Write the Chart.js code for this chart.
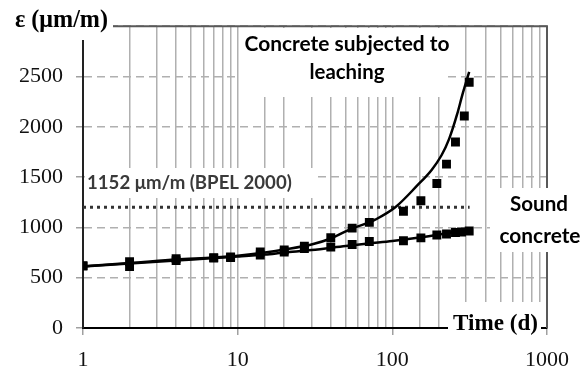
<!DOCTYPE html>
<html><head><meta charset="utf-8">
<script src="https://cdn.jsdelivr.net/npm/chart.js@4.4.1/dist/chart.umd.min.js"></script>
<style>html,body{margin:0;padding:0;background:#fff;}#wrap{width:581px;height:378px;}</style>
</head><body><div id="wrap"><canvas id="c" width="581" height="378"></canvas></div>
<script>
// ---- data ----
const leachedTimes  = [1, 2, 4, 7, 9, 14, 20, 27, 40, 55, 71, 118, 153, 194, 224, 256, 292, 314];
const leachedPoints = [620, 660, 690, 700, 705, 755, 775, 812, 898, 993, 1050, 1160, 1265, 1437, 1629, 1849, 2108, 2443];
const soundTimes    = [1, 2, 4, 7, 9, 14, 20, 27, 40, 55, 71, 118, 153, 194, 224, 256, 280, 314];
const soundPoints   = [615, 610, 670, 695, 700, 725, 755, 790, 805, 830, 860, 867, 896, 925, 935, 950, 955, 965];
const leachedCurveT = [1, 2, 4, 7, 10, 15, 20, 30, 40, 55, 71, 78, 105, 144, 180, 208, 233, 263, 285, 314];
const leachedCurve  = [615, 645, 680, 700, 718, 750, 780, 830, 890, 990, 1050, 1079, 1203, 1412, 1574, 1717, 1880, 2130, 2330, 2545];
const soundCurveT   = [1, 2, 4, 7, 10, 15, 20, 30, 50, 70, 100, 150, 200, 250, 316];
const soundCurve    = [610, 640, 670, 695, 710, 730, 750, 775, 815, 840, 865, 900, 930, 955, 985];
const limitT        = [1, 316];
const limitValue    = [1200, 1200];
const xTickLabels   = [1, 10, 100, 1000];
const yMin = 0, yMax = 3000, yStep = 500;

const SERIF = '"Liberation Serif", "Times New Roman", serif';
const SANS = 'Lato, "Open Sans", sans-serif';
Chart.defaults.font.family = SERIF;
Chart.defaults.font.size = 22;
Chart.defaults.color = '#000';

const pts = (ts, vs) => ts.map((t, i) => ({x: t, y: vs[i]}));

function fitText(ctx, text, x, y, align, weight, family, targetW, color) {
  ctx.font = weight + ' 100px ' + family;
  const w = ctx.measureText(text).width;
  const size = 100 * targetW / w;
  ctx.font = weight + ' ' + size.toFixed(2) + 'px ' + family;
  ctx.fillStyle = color;
  ctx.textAlign = align;
  ctx.textBaseline = 'middle';
  ctx.fillText(text, x, y);
}

const deco = {
  id: 'deco',
  beforeDatasetsDraw(chart) {
    const {ctx, chartArea: a} = chart;
    ctx.save();
    ctx.strokeStyle = '#595959';
    ctx.lineWidth = 2;
    ctx.beginPath();
    ctx.moveTo(a.left, a.top); ctx.lineTo(a.right, a.top); ctx.lineTo(a.right, a.bottom);
    ctx.stroke();
    ctx.fillStyle = '#fff';
    ctx.fillRect(0, 0, 113, 40);
    ctx.fillRect(240, 28, 208, 69);
    ctx.fillRect(85, 168, 228, 30);
    ctx.fillRect(490, 188, 91, 64);
    ctx.fillRect(448, 302, 93, 38);
    fitText(ctx, 'ε (μm/m)', 15, 21, 'left', 'bold', SERIF, 93, '#000');
    fitText(ctx, 'Concrete subjected to', 347, 44, 'center', 'bold', SANS, 205, '#000');
    fitText(ctx, 'leaching', 347, 72, 'center', 'bold', SANS, 75, '#000');
    fitText(ctx, '1152 μm/m (BPEL 2000)', 87, 183, 'left', 'bold', SANS, 205, '#3a3a3a');
    fitText(ctx, 'Sound', 539, 204, 'center', 'bold', SANS, 58, '#000');
    fitText(ctx, 'concrete', 540, 236, 'center', 'bold', SANS, 81, '#000');
    fitText(ctx, 'Time (d)', 453, 324, 'left', 'bold', SERIF, 85, '#000');
    ctx.restore();
  }
};

new Chart(document.getElementById('c'), {
  type: 'scatter',
  data: {
    datasets: [
      {data: pts(leachedTimes, leachedPoints), pointStyle: 'rect', pointRadius: 6.3, backgroundColor: '#000', borderWidth: 0, showLine: false},
      {data: pts(soundTimes, soundPoints), pointStyle: 'rect', pointRadius: 6.3, backgroundColor: '#000', borderWidth: 0, showLine: false},
      {data: pts(leachedCurveT, leachedCurve), showLine: true, borderColor: '#000', borderWidth: 2.5, pointRadius: 0, cubicInterpolationMode: 'monotone'},
      {data: pts(soundCurveT, soundCurve), showLine: true, borderColor: '#000', borderWidth: 2.5, pointRadius: 0, cubicInterpolationMode: 'monotone'},
      {data: pts(limitT, limitValue), showLine: true, borderColor: '#333', borderWidth: 3, borderDash: [3, 4], borderCapStyle: 'butt', pointRadius: 0}
    ]
  },
  options: {
    responsive: false, animation: false, devicePixelRatio: 1,
    layout: {padding: {top: 15, right: 28, left: 0, bottom: 0}},
    plugins: {legend: {display: false}, tooltip: {enabled: false}},
    scales: {
      x: {
        type: 'logarithmic', min: 1, max: 1000,
        afterFit: s => { s.height = 50; },
        ticks: {
          autoSkip: false, maxRotation: 0, padding: 12, color: '#111',
          font: {family: SERIF, size: 22},
          callback: v => xTickLabels.includes(v) ? String(v) : ''
        },
        grid: {
          color: '#b0b0b0', lineWidth: 1.5, tickLength: 7,
          tickColor: c => (c.tick && xTickLabels.includes(c.tick.value)) ? '#a0a0a0' : 'rgba(0,0,0,0)'
        },
        border: {color: '#000', width: 2}
      },
      y: {
        min: yMin, max: yMax,
        afterFit: s => { s.width = 83; },
        ticks: {
          stepSize: yStep, padding: 13, color: '#111',
          font: {family: SERIF, size: 22},
          callback: v => String(v)
        },
        grid: {color: '#b0b0b0', lineWidth: 1.5, tickLength: 7, tickColor: '#a0a0a0'},
        border: {color: '#222', width: 2, dash: [8, 5]}
      }
    }
  },
  plugins: [deco]
});
</script></body></html>
